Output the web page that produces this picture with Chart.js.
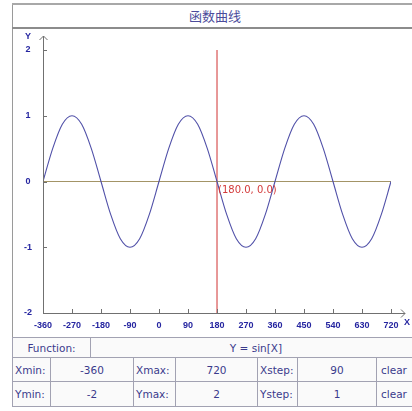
<!DOCTYPE html>
<html>
<head>
<meta charset="utf-8">
<script src="https://cdn.jsdelivr.net/npm/chart.js@4"></script>
<style>
  body { margin: 0; width: 412px; height: 411px; overflow: hidden; background: #fff; position: relative; }
  #leftRule { position: absolute; left: 12px; top: 3px; width: 1px; height: 403px; background: #9a9a9a; }
  #titleBar {
    position: absolute; left: 12px; top: 3px; width: 420px; height: 22px;
    border-top: 2px solid #a8a8a8; border-bottom: 2px solid #8c8c8c;
    font: 13px "Noto Sans CJK SC", sans-serif; color: #4b4b9b;
    line-height: 22px; text-align: center; padding-right: 0;
  }
  #titleBar span { position: absolute; left: 0; width: 406px; text-align: center; }
  #plot { position: absolute; left: 13px; top: 29px; width: 399px; height: 308px; }
  .grid { position: absolute; left: 12px; border-collapse: collapse; table-layout: fixed;
          font: 10.5px "DejaVu Sans", sans-serif; color: #3a3a8c; background: #fafafa; }
  .grid td { border: 1px solid #a2a2b2; padding: 0 2px; white-space: nowrap; overflow: hidden; }
  .grid td.val { text-align: center; }
  #fnRow { top: 337px; width: 420px; }
  #fnRow td { height: 19px; }
  #rangeRows { top: 357px; width: 426px; }
  #rangeRows tr.r1 td { height: 23px; }
  #rangeRows tr.r2 td { height: 24px; }
</style>
</head>
<body>
<div id="leftRule"></div>
<div id="titleBar"><span>函数曲线</span></div>
<div id="plot"><canvas id="curve"></canvas></div>

<table class="grid" id="fnRow">
  <colgroup><col style="width:78px"><col></colgroup>
  <tr><td class="val">Function:</td><td class="val" style="padding-right:12px">Y = sin[X]</td></tr>
</table>
<table class="grid" id="rangeRows">
  <colgroup>
    <col style="width:38px"><col style="width:83px"><col style="width:42px"><col style="width:82px">
    <col style="width:40px"><col style="width:79px"><col style="width:62px">
  </colgroup>
  <tr class="r1"><td>Xmin:</td><td class="val" id="xminCell"></td><td>Xmax:</td><td class="val" id="xmaxCell"></td>
      <td>Xstep:</td><td class="val" id="xstepCell"></td><td style="padding-left:4px">clear</td></tr>
  <tr class="r2"><td>Ymin:</td><td class="val" id="yminCell"></td><td>Ymax:</td><td class="val" id="ymaxCell"></td>
      <td>Ystep:</td><td class="val" id="ystepCell"></td><td style="padding-left:4px">clear</td></tr>
</table>

<script>
// axis ranges shown in the settings table
const X_RANGE = [-360, 720, 90];
const Y_RANGE = [-2, 2, 1];

// sampled curve, Y = sin[X]
const curveX = [-360, -330, -300, -270, -240, -210, -180, -150, -120, -90, -60, -30,
  0, 30, 60, 90, 120, 150, 180, 210, 240, 270, 300, 330,
  360, 390, 420, 450, 480, 510, 540, 570, 600, 630, 660, 690, 720];
const curveY = [0, 0.5, 0.87, 1, 0.87, 0.5, 0, -0.5, -0.87, -1, -0.87, -0.5,
  0, 0.5, 0.87, 1, 0.87, 0.5, 0, -0.5, -0.87, -1, -0.87, -0.5,
  0, 0.5, 0.87, 1, 0.87, 0.5, 0, -0.5, -0.87, -1, -0.87, -0.5, 0];

// cursor position
const cursor = [180.0, 0.0];

const TICK_COLOR = "#2525a0";
const TICK_FONT = { family: "Liberation Sans", size: 9, weight: "bold" };

document.getElementById("xminCell").textContent = X_RANGE[0];
document.getElementById("xmaxCell").textContent = X_RANGE[1];
document.getElementById("xstepCell").textContent = X_RANGE[2];
document.getElementById("yminCell").textContent = Y_RANGE[0];
document.getElementById("ymaxCell").textContent = Y_RANGE[1];
document.getElementById("ystepCell").textContent = Y_RANGE[2];

// axes with arrows, inward tick marks, axis names and the cursor label
const axesPlugin = {
  id: "axes",
  afterDraw(chart) {
    const ctx = chart.ctx;
    const area = chart.chartArea;
    const xs = chart.scales.x;
    const ys = chart.scales.y;
    ctx.save();
    ctx.strokeStyle = "#707070";
    ctx.lineWidth = 1;
    ctx.beginPath();
    // y axis
    ctx.moveTo(area.left + 0.5, area.bottom);
    ctx.lineTo(area.left + 0.5, area.top - 14);
    ctx.moveTo(area.left - 3.5, area.top - 10);
    ctx.lineTo(area.left + 0.5, area.top - 14);
    ctx.lineTo(area.left + 4.5, area.top - 10);
    // x axis
    ctx.moveTo(area.left, area.bottom + 0.5);
    ctx.lineTo(area.right + 14, area.bottom + 0.5);
    ctx.moveTo(area.right + 10, area.bottom - 3.5);
    ctx.lineTo(area.right + 14, area.bottom + 0.5);
    ctx.lineTo(area.right + 10, area.bottom + 4.5);
    xs.ticks.forEach((t) => {
      const px = Math.round(xs.getPixelForValue(t.value)) + 0.5;
      ctx.moveTo(px, area.bottom);
      ctx.lineTo(px, area.bottom - 4);
    });
    ys.ticks.forEach((t) => {
      const py = Math.round(ys.getPixelForValue(t.value)) + 0.5;
      ctx.moveTo(area.left, py);
      ctx.lineTo(area.left + 4, py);
    });
    ctx.stroke();

    ctx.fillStyle = TICK_COLOR;
    ctx.font = "bold 9px 'Liberation Sans'";
    ctx.textAlign = "center";
    ctx.textBaseline = "middle";
    ctx.fillText("Y", area.left - 15, area.top - 13);
    ctx.fillText("X", area.right + 16, area.bottom + 10);

    const cx = xs.getPixelForValue(cursor[0]);
    const cy = ys.getPixelForValue(cursor[1]);
    ctx.fillStyle = "#d33a3a";
    ctx.font = "10px 'DejaVu Sans'";
    ctx.textAlign = "left";
    ctx.fillText("(" + cursor[0].toFixed(1) + ", " + cursor[1].toFixed(1) + ")", cx + 1, cy + 9);
    ctx.restore();
  },
};

new Chart(document.getElementById("curve"), {
  type: "line",
  data: {
    datasets: [
      {
        label: "sin",
        data: curveX.map((x, i) => ({ x: x, y: curveY[i] })),
        borderColor: "#5050a8",
        borderWidth: 1.1,
        pointRadius: 0,
        cubicInterpolationMode: "monotone",
        order: 0,
      },
      {
        label: "zero",
        data: [{ x: X_RANGE[0], y: 0 }, { x: X_RANGE[1], y: 0 }],
        borderColor: "#a39466",
        borderWidth: 1,
        pointRadius: 0,
        order: 1,
      },
      {
        label: "cursor",
        data: [{ x: cursor[0], y: Y_RANGE[1] }, { x: cursor[0], y: Y_RANGE[0] }],
        borderColor: "#e48a8a",
        borderWidth: 1,
        pointRadius: 0,
        order: 2,
      },
    ],
  },
  options: {
    responsive: true,
    maintainAspectRatio: false,
    animation: false,
    events: [],
    layout: { padding: { top: 21, right: 21, left: 0, bottom: 0 } },
    plugins: { legend: { display: false }, tooltip: { enabled: false } },
    scales: {
      x: {
        type: "linear",
        min: X_RANGE[0],
        max: X_RANGE[1],
        grid: { display: false, drawTicks: false },
        border: { display: false },
        ticks: { stepSize: X_RANGE[2], padding: 7, color: TICK_COLOR, font: TICK_FONT, maxRotation: 0, autoSkip: false },
        afterFit: (s) => {
          s.height = 24;
          s.paddingLeft = 0;
          s.paddingRight = 0;
        },
      },
      y: {
        min: Y_RANGE[0],
        max: Y_RANGE[1],
        grid: { display: false, drawTicks: false },
        border: { display: false },
        ticks: { stepSize: Y_RANGE[2], padding: 11, crossAlign: "center", color: TICK_COLOR, font: TICK_FONT },
        afterFit: (s) => {
          s.width = 30;
          s.paddingTop = 0;
          s.paddingBottom = 0;
        },
      },
    },
  },
  plugins: [axesPlugin],
});
</script>
</body>
</html>
